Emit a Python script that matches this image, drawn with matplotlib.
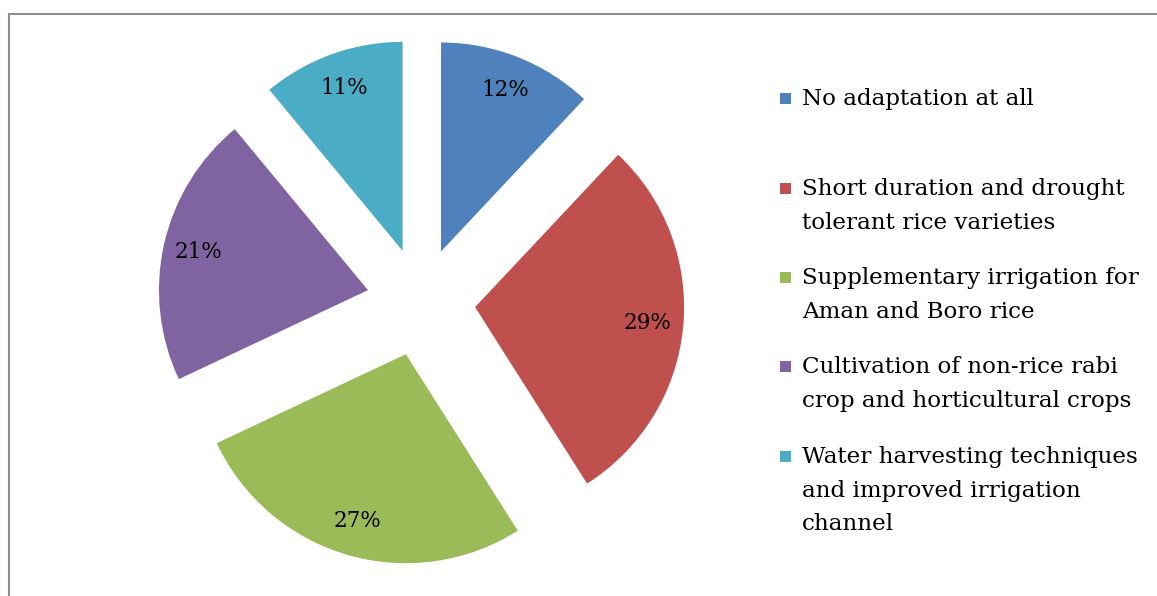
import matplotlib.pyplot as plt
from matplotlib.patches import Rectangle
from matplotlib.lines import Line2D

categories = [
    "No adaptation at all",
    "Short duration and drought\ntolerant rice varieties",
    "Supplementary irrigation for\nAman and Boro rice",
    "Cultivation of non-rice rabi\ncrop and horticultural crops",
    "Water harvesting techniques\nand improved irrigation\nchannel",
]
shares = [12, 29, 27, 21, 11]
colors = ["#4F81BD", "#C0504D", "#9BBB59", "#8064A2", "#4BACC6"]

W, H = 1157, 596
fig = plt.figure(figsize=(W / 100, H / 100), dpi=100)
ax = fig.add_axes([0, 0, 1, 1])

font = "DejaVu Serif"
ax.pie(shares, colors=colors, startangle=90, counterclock=False,
       explode=[0.26] * len(shares), radius=1.0,
       autopct=lambda p: f"{p:.0f}%", pctdistance=0.83,
       textprops=dict(fontsize=15.5, family=font, color="black"),
       wedgeprops=dict(linewidth=0))

# pie centre and radius in pixels
cx, cy, r = 421, 302, 209
ax.set_xlim(-cx / r, (W - cx) / r)
ax.set_ylim(-(H - cy) / r, cy / r)
ax.set_aspect("auto")
ax.axis("off")

# chart-area frame (left and top edges visible)
fig.add_artist(Line2D([9 / W, 9 / W], [0, 1 - 14 / H], transform=fig.transFigure,
                      color="#8c8c8c", lw=1.5))
fig.add_artist(Line2D([9 / W, 1], [1 - 14 / H, 1 - 14 / H], transform=fig.transFigure,
                      color="#8c8c8c", lw=1.5))

# legend
entry_y = [98, 188, 277, 366, 456]
for name, col, y in zip(categories, colors, entry_y):
    fig.add_artist(Rectangle((780 / W, 1 - (y + 6) / H), 11 / W, 11 / H,
                             transform=fig.transFigure, facecolor=col, edgecolor="none"))
    fig.text(802 / W, 1 - (y - 10) / H, name, fontsize=16.6, family=font,
             va="top", ha="left", linespacing=1.68)

fig.savefig("out.png", dpi=100)
